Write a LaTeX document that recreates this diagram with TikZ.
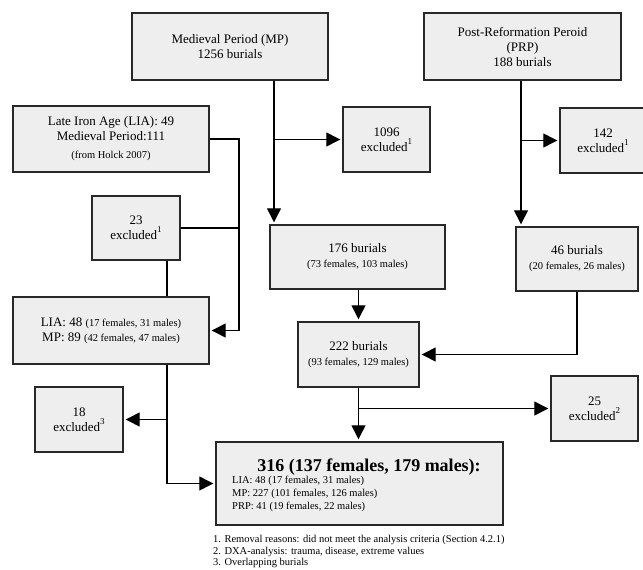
\documentclass[tikz,border=0pt]{standalone}
\usepackage{fontspec}
\setmainfont{Liberation Serif}
\usetikzlibrary{arrows.meta}
\definecolor{boxfill}{RGB}{238,238,238}
\definecolor{boxline}{RGB}{40,40,40}
\newcommand\exsup[1]{\raisebox{7pt}{\fontsize{9}{9}\selectfont #1}}
\newcommand\smallp{\fontsize{10.5}{13}\selectfont}
\begin{document}
\begin{tikzpicture}[x=1pt,y=-1pt,
  box/.style={draw=boxline, line width=1.4pt, fill=boxfill, inner sep=0pt, align=center, font=\fontsize{13}{15}\selectfont},
  conn/.style={line width=1.3pt, draw=black},
  arr/.style={conn, -{Triangle[length=14pt,width=14pt]}, shorten >=2pt}
]
\useasboundingbox (0,0) rectangle (643,570);

% boxes
\node[box, minimum width=196pt, minimum height=67pt] (mp) at (230,46.5) {Medieval Period (MP)\\1256 burials};
\node[box, minimum width=197pt, minimum height=67pt] (prp) at (522.5,46.5) {Post-Reformation Peroid\\(PRP)\\188 burials};
\node[box, minimum width=196pt, minimum height=66pt] (lia) at (111,139) {Late Iron Age (LIA): 49\\Medieval Period:111\\[3pt]{\smallp(from Holck 2007)}};
\node[box, minimum width=87pt, minimum height=65pt] (ex1096) at (386.5,139.5) {1096\\excluded\exsup{1}};
\node[box, minimum width=86pt, minimum height=65pt] (ex142) at (603,140.5) {142\\excluded\exsup{1}};
\node[box, minimum width=88pt, minimum height=64pt] (ex23) at (136,228) {23\\excluded\exsup{1}};
\node[box, minimum width=175pt, minimum height=64pt] (b176) at (357.5,257) {176 burials\\{\smallp(73 females, 103 males)}};
\node[box, minimum width=122pt, minimum height=64pt] (b46) at (577,259) {46 burials\\{\smallp(20 females, 26 males)}};
\node[box, minimum width=196pt, minimum height=67pt] (lia2) at (111,330.5) {LIA: 48 {\smallp(17 females, 31 males)}\\MP: 89 {\smallp(42 females, 47 males)}};
\node[box, minimum width=121pt, minimum height=65pt] (b222) at (358.5,354.5) {222 burials\\{\smallp(93 females, 129 males)}};
\node[box, minimum width=88pt, minimum height=65pt] (ex18) at (79,419.5) {18\\excluded\exsup{3}};
\node[box, minimum width=87pt, minimum height=65pt] (ex25) at (594.5,408.5) {25\\excluded\exsup{2}};
\node[box, minimum width=287pt, minimum height=83pt] (final) at (359.5,483.5) {};
\node[inner sep=0pt, font=\fontsize{18}{20}\selectfont\bfseries] (ftitle) at (369,467) {316 (137 females, 179 males):};
\node[anchor=north west, align=left, inner sep=0pt, font=\smallp] (flines) at (232,475.5) {LIA: 48 (17 females, 31 males)\\MP: 227 (101 females, 126 males)\\PRP: 41 (19 females, 22 males)};

% footnotes
\node[anchor=north west, align=left, inner sep=0pt, font=\fontsize{10.5}{11.5}\selectfont] (notes) at (213,535.5) {1. Removal reasons: did not meet the analysis criteria (Section 4.2.1)\\2. DXA-analysis: trauma, disease, extreme values\\3. Overlapping burials};

% connector columns
\coordinate (mpx) at (274,0);
\coordinate (prpx) at (521,0);
\coordinate (liax) at (239,0);
\coordinate (lx) at (167,0);

\draw[arr] (mp.south -| mpx) -- (b176.north -| mpx);
\draw[arr] (ex1096.west -| mpx) -- (ex1096.west);
\draw[arr] (prp.south -| prpx) -- (b46.north -| prpx);
\draw[arr] (ex142.west -| prpx) -- (ex142.west);

\draw[arr] (lia.east) -- (lia.east -| liax) -- (lia2.east -| liax) -- (lia2.east);
\draw[conn] (ex23.east) -- (ex23.east -| liax);
\draw[conn] (ex23.south -| lx) -- (lia2.north -| lx);
\draw[arr] (lia2.south -| lx) -- (final.west -| lx) -- (final.west);
\draw[arr] (ex18.east -| lx) -- (ex18.east);

\draw[arr] (b222.north |- b176.south) -- (b222.north);
\draw[arr] (b46.south) |- (b222.east);
\draw[arr] (b222.south) -- (b222.south |- final.north);
\draw[arr] (b222.south |- ex25.west) -- (ex25.west);
\end{tikzpicture}
\end{document}
